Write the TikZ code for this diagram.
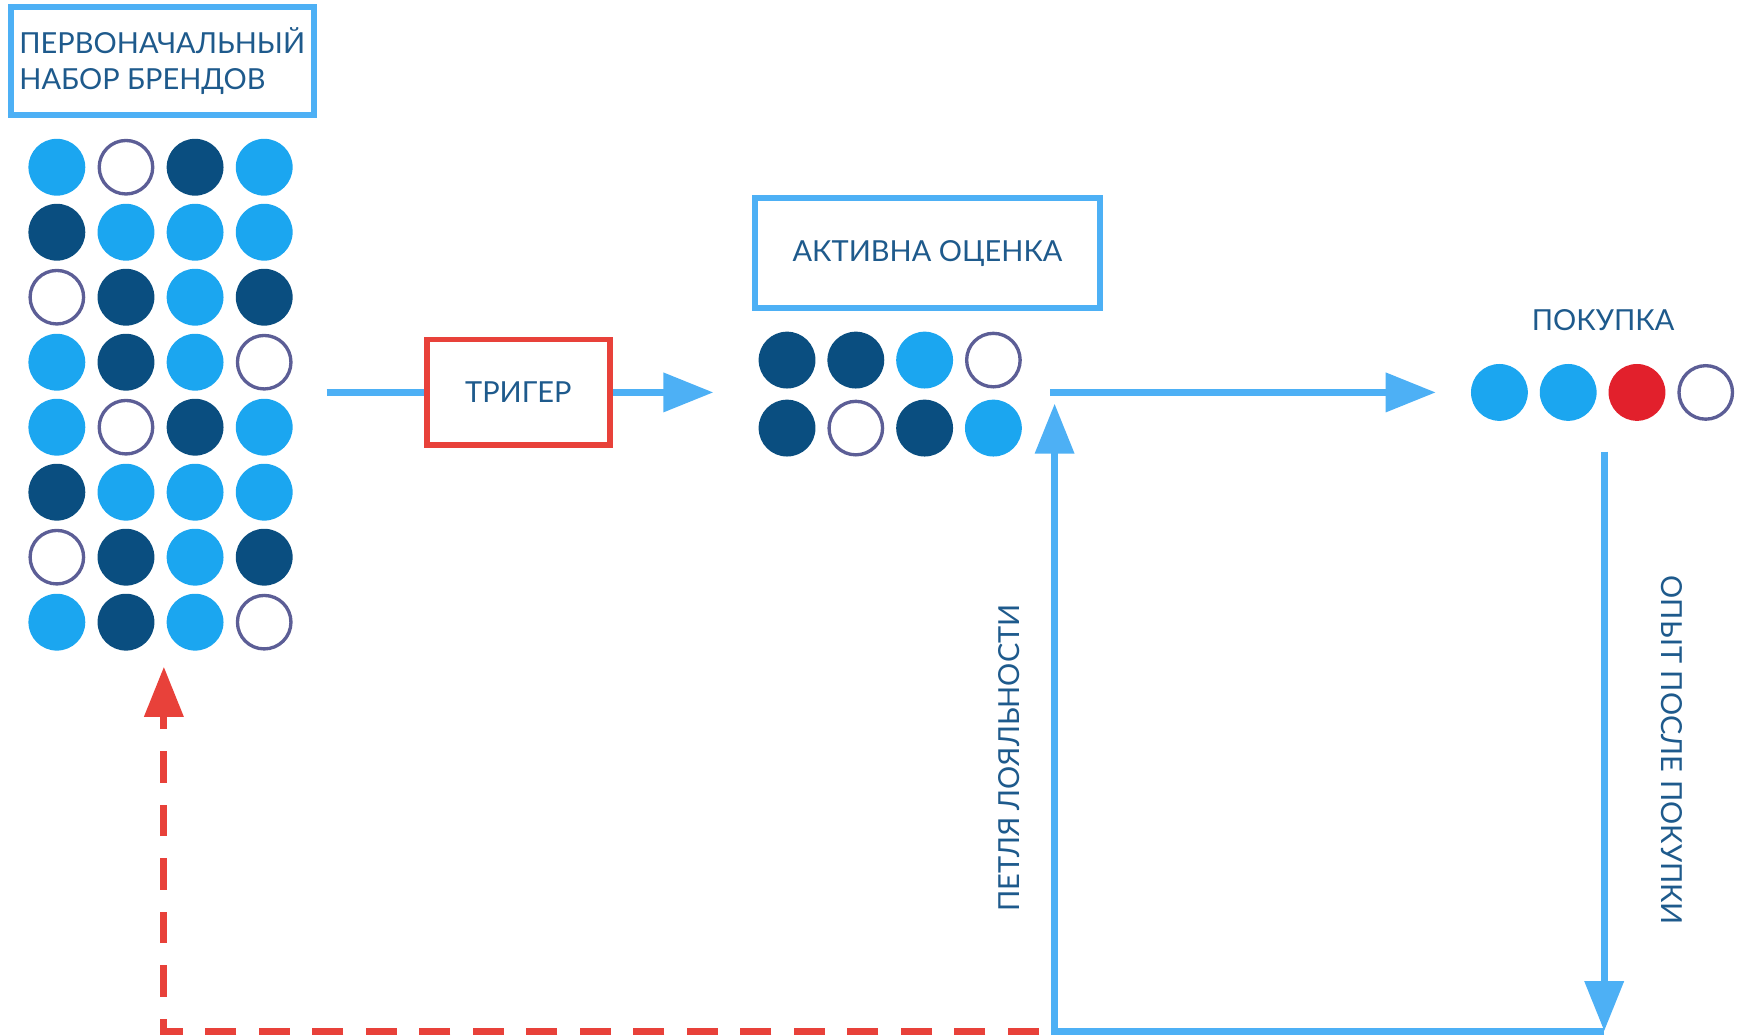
\documentclass[tikz,border=0pt]{standalone}
\usepackage{fontspec}
\setmainfont{Lato}
\usetikzlibrary{arrows.meta}

\definecolor{skyline}{RGB}{77,176,245}
\definecolor{dotlight}{RGB}{27,166,240}
\definecolor{dotdark}{RGB}{10,78,128}
\definecolor{dotring}{RGB}{92,94,150}
\definecolor{redline}{RGB}{232,65,58}
\definecolor{dotred}{RGB}{226,32,44}
\definecolor{txtblue}{RGB}{30,90,140}

\tikzset{every picture/.style={line width=0.75pt},
  lbl/.style={text=txtblue, font=\fontsize{13}{16}\selectfont},
  bluebox/.style={lbl, draw=skyline, line width=2.7pt, inner sep=0pt},
  redbox/.style={lbl, draw=redline, line width=2.6pt, inner sep=0pt},
  dot/.style={circle, inner sep=0pt, minimum size=25.5pt},
  lb/.style={dot, fill=dotlight},
  db/.style={dot, fill=dotdark},
  ob/.style={dot, draw=dotring, line width=1.5pt, minimum size=24pt},
  rb/.style={dot, fill=dotred},
  flow/.style={draw=skyline, line width=3.3pt},
  bluetip/.style={-{Triangle[length=22.5pt,width=17pt]}},
  redflow/.style={draw=redline, line width=3.2pt, dash pattern=on 14pt off 10pt, -{Triangle[length=22.5pt,width=17pt]}},
}

\begin{document}
\begin{tikzpicture}[x=0.5pt,y=0.5pt,yscale=-1,xscale=1]
	\useasboundingbox (0,0) rectangle (1568,928);

	% Text Node
	\node [bluebox, align=left, minimum width=136pt, minimum height=48.5pt] (start) at (145.5,55) {ПЕРВОНАЧАЛЬНЫЙ\\НАБОР БРЕНДОВ};
	% Text Node
	\node [redbox, minimum width=82pt, minimum height=47.5pt] (trig) at (465,352) {ТРИГЕР};
	% Text Node
	\node [bluebox, minimum width=154.5pt, minimum height=49pt] (eval) at (832,227) {АКТИВНА ОЦЕНКА};
	% Text Node
	\node [lbl] (buy) at (1438,287) {ПОКУПКА};

	%Shape: Circles, brand set
	\foreach \r/\row in {1/{lb,ob,db,lb},2/{db,lb,lb,lb},3/{ob,db,lb,db},4/{lb,db,lb,ob},
	                      5/{lb,ob,db,lb},6/{db,lb,lb,lb},7/{ob,db,lb,db},8/{lb,db,lb,ob}}
	  \foreach \s [count=\c] in \row
	    \node [\s] (g-\r-\c) at (51+62*\c-62,150+58.3*\r-58.3) {};

	%Shape: Circles, evaluation
	\foreach \r/\row in {1/{db,db,lb,ob},2/{db,ob,db,lb}}
	  \foreach \s [count=\c] in \row
	    \node [\s] (e-\r-\c) at (706+61.7*\c-61.7,323+61*\r-61) {};

	%Shape: Circles, purchase
	\foreach \s [count=\c] in {lb,lb,rb,ob}
	  \node [\s] (b-\c) at (1345+61.7*\c-61.7,352) {};

	% Connector points
	\coordinate (in) at (293,352);
	\coordinate (evalin) at (640,352);
	\coordinate (evalout) at (942,352);
	\coordinate (buyin) at (1288,352);
	\coordinate (buyout) at (1439,405);
	\coordinate (loopbr) at (1439,925);
	\coordinate (loopbl) at (946,925);
	\coordinate (looptip) at (946,362);
	\coordinate (redstart) at (932,925);
	\coordinate (redcorner) at (147,925);
	\coordinate (redtip) at (147,598);

	%Straight Lines [flow]
	\draw [flow] (in) -- (trig);
	\draw [flow, bluetip] (trig) -- (evalin);
	\draw [flow, bluetip] (evalout) -- (buyin);
	\draw [flow, bluetip] (buyout) -- (loopbr);
	\draw [flow, bluetip] (loopbr) -- (loopbl) -- (looptip);
	\draw [redflow] (redstart) -- (redcorner) -- (redtip);

	% Text Node
	\node [lbl, rotate=90] (loyal) at (905,680) {ПЕТЛЯ ЛОЯЛЬНОСТИ};
	% Text Node
	\node [lbl, rotate=-90] (after) at (1500,673) {ОПЫТ ПОСЛЕ ПОКУПКИ};

\end{tikzpicture}
\end{document}
